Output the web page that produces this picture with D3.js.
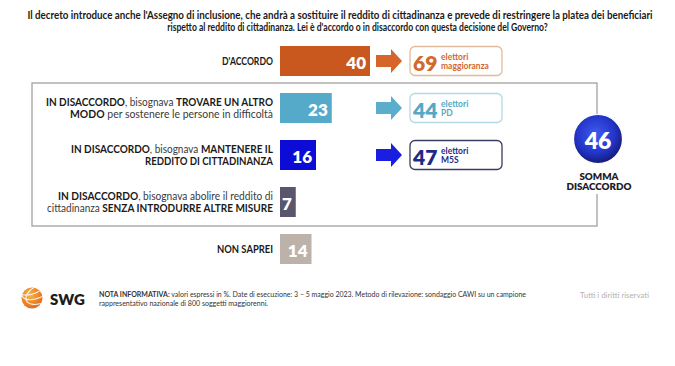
<!DOCTYPE html>
<html><head><meta charset="utf-8">
<script src="https://cdn.jsdelivr.net/npm/d3@7"></script>
<style>body{margin:0;background:#fff} svg{display:block;font-family:Lato,'Open Sans',sans-serif}</style>
</head><body><svg id="c" width="675" height="366"></svg>
<script>
// ---------- DATA ----------
const titleLines = [
  "Il decreto introduce anche l'Assegno di inclusione, che andrà a sostituire il reddito di cittadinanza e prevede di restringere la platea dei beneficiari",
  "rispetto al reddito di cittadinanza. Lei è d'accordo o in disaccordo con questa decisione del Governo?"
];
const categories = ["accordo", "altroModo", "mantenere", "abolire", "nonSaprei"];
const values = [40, 23, 16, 7, 14];
const labelLines = [
  [[["D'ACCORDO", true]]],
  [[["IN DISACCORDO", true], [", bisognava ", false], ["TROVARE UN ALTRO", true]],
   [["MODO", true], [" per sostenere le persone in difficoltà", false]]],
  [[["IN DISACCORDO", true], [", bisognava ", false], ["MANTENERE IL", true]],
   [["REDDITO DI CITTADINANZA", true]]],
  [[["IN DISACCORDO", true], [", bisognava abolire il reddito di", false]],
   [["cittadinanza ", false], ["SENZA INTRODURRE ALTRE MISURE", true]]],
  [[["NON SAPREI", true]]]
];
const electorateCategories = ["accordo", "altroModo", "mantenere"];
const electorateValues = [69, 44, 47];
const electorateWord = "elettori";
const electorateGroups = ["maggioranza", "PD", "M5S"];
const sumValue = 46;
const sumLabel = ["SOMMA", "DISACCORDO"];
const noteLines = [
  [["NOTA INFORMATIVA:", true], [" valori espressi in %. Date di esecuzione: 3 – 5 maggio 2023. Metodo di rilevazione: sondaggio CAWI su un campione", false]],
  [["rappresentativo nazionale di 800 soggetti maggiorenni.", false]]
];
const brand = "SWG";
const rights = "Tutti i diritti riservati";

// ---------- STYLE / LAYOUT ----------
const barColors = ["#c9581f", "#55a9c9", "#0c0cd6", "#5b566d", "#bcb2aa"];
const arrowColors = ["#d5652a", "#5aaecb", "#1a1ee0"];
const boxStroke = ["#e3bb9c", "#b3d8e6", "#3a3d60"];
const boxText = ["#d2682b", "#54a8c6", "#1f2a85"];
const labelWidths = [[51], [227, 203], [202, 128], [215, 226], [56]];
const titleWidths = [626, 381];
const titleCenters = [340, 357.5];

const svg = d3.select("#c");
const defs = svg.append("defs");

const x = d3.scaleLinear().domain([0, 40]).range([280, 370]);
const y = d3.scalePoint().domain(categories).range([61, 249]);
const barH = 30;

// title: condensed by narrowing font-size and stretching vertically
titleLines.forEach((line, i) => {
  const base = 10.5;
  const t = svg.append("text")
    .attr("text-anchor", "middle").attr("font-weight", 700).attr("font-size", base)
    .attr("fill", "#1a1a1a").text(line);
  const natural = t.node().getComputedTextLength();
  const k = Math.min(1, titleWidths[i] / natural);
  t.attr("font-size", base * k)
   .attr("transform", `translate(${titleCenters[i]},${18.5 + i * 12}) scale(1,${1 / k})`);
});

// disagreement frame
svg.append("rect").attr("x", 32).attr("y", 83).attr("width", 565).attr("height", 143)
  .attr("fill", "none").attr("stroke", "#a0a0a0").attr("stroke-width", 1.3);
svg.append("rect").attr("x", 590).attr("y", 158).attr("width", 16).attr("height", 36).attr("fill", "#fff");

// bars
svg.selectAll("rect.bar").data(values).join("rect")
  .attr("class", "bar")
  .attr("x", x(0)).attr("y", (d, i) => y(categories[i]) - barH / 2)
  .attr("width", d => x(d) - x(0)).attr("height", barH)
  .attr("fill", (d, i) => barColors[i]);

svg.selectAll("text.val").data(values).join("text")
  .attr("class", "val")
  .attr("x", d => x(d) - 4).attr("y", (d, i) => y(categories[i]) + 1)
  .attr("text-anchor", "end").attr("dominant-baseline", "central")
  .attr("font-weight", 800).attr("font-size", 17).attr("fill", "#fff")
  .text(d => d);

// labels
labelLines.forEach((lines, i) => {
  const cy = y(categories[i]);
  const n = lines.length;
  lines.forEach((segs, j) => {
    const t = svg.append("text")
      .attr("x", 273).attr("y", cy + (j - (n - 1) / 2) * 11.5)
      .attr("text-anchor", "end").attr("dominant-baseline", "central")
      .attr("font-size", 10.5).attr("fill", "#2a2a2a")
      .attr("textLength", labelWidths[i][j]).attr("lengthAdjust", "spacingAndGlyphs");
    segs.forEach(s => t.append("tspan").attr("font-weight", s[1] ? 700 : 400)
      .attr("fill", s[1] ? "#1a1a1a" : "#3a3a3a").text(s[0]));
  });
});

// arrows + electorate boxes
electorateValues.forEach((v, i) => {
  const cy = y(electorateCategories[i]);
  const p = d3.path();
  p.moveTo(376, cy - 6); p.lineTo(391, cy - 6); p.lineTo(391, cy - 12);
  p.lineTo(402, cy); p.lineTo(391, cy + 12); p.lineTo(391, cy + 6);
  p.lineTo(376, cy + 6); p.closePath();
  svg.append("path").attr("d", p.toString()).attr("fill", arrowColors[i]);

  svg.append("rect").attr("x", 410).attr("y", cy - 14.5).attr("width", 92).attr("height", 29)
    .attr("rx", 5).attr("fill", "#fff").attr("stroke", boxStroke[i]).attr("stroke-width", 1.3);
  svg.append("text").attr("x", 413).attr("y", cy + 1)
    .attr("dominant-baseline", "central").attr("font-weight", 800).attr("font-size", 21)
    .attr("fill", boxText[i]).text(v);
  svg.append("text").attr("x", 441).attr("y", cy - 4.5)
    .attr("dominant-baseline", "central").attr("font-weight", 700).attr("font-size", 8.5)
    .attr("fill", boxText[i]).text(electorateWord);
  svg.append("text").attr("x", 441).attr("y", cy + 5)
    .attr("dominant-baseline", "central").attr("font-weight", 700).attr("font-size", 8.5)
    .attr("fill", boxText[i]).text(electorateGroups[i]);
});

// sum circle
const rg = defs.append("radialGradient").attr("id", "sumGrad").attr("cx", "45%").attr("cy", "40%").attr("r", "60%");
rg.append("stop").attr("offset", "0%").attr("stop-color", "#3f5af0");
rg.append("stop").attr("offset", "65%").attr("stop-color", "#2335c8");
rg.append("stop").attr("offset", "100%").attr("stop-color", "#141c78");
svg.append("circle").attr("cx", 598).attr("cy", 139).attr("r", 24.5)
  .attr("fill", "url(#sumGrad)").attr("stroke", "#fff").attr("stroke-width", 1.2);
svg.append("text").attr("x", 598).attr("y", 140).attr("text-anchor", "middle")
  .attr("dominant-baseline", "central").attr("font-weight", 800).attr("font-size", 23)
  .attr("fill", "#fff").text(sumValue);
svg.selectAll("text.sum").data(sumLabel).join("text").attr("class", "sum")
  .attr("x", 599).attr("y", (d, i) => 175.5 + i * 10.5).attr("text-anchor", "middle")
  .attr("dominant-baseline", "central").attr("font-weight", 800).attr("font-size", 9.8)
  .attr("fill", "#1c1c2a").text(d => d);

// footer logo
const lg = defs.append("radialGradient").attr("id", "logoGrad").attr("cx", "40%").attr("cy", "35%").attr("r", "70%");
lg.append("stop").attr("offset", "0%").attr("stop-color", "#f9b548");
lg.append("stop").attr("offset", "100%").attr("stop-color", "#e2661a");
defs.append("clipPath").attr("id", "logoClip").append("circle").attr("cx", 32).attr("cy", 298).attr("r", 10.5);
svg.append("circle").attr("cx", 32).attr("cy", 298).attr("r", 10.5).attr("fill", "url(#logoGrad)");
const stripes = svg.append("g").attr("clip-path", "url(#logoClip)");
[-6, 0, 6].forEach(o => {
  stripes.append("ellipse").attr("cx", 40 + o * 0.3).attr("cy", 292 + o)
    .attr("rx", 16).attr("ry", 9).attr("transform", `rotate(-25 32 298)`)
    .attr("fill", "none").attr("stroke", "#fff").attr("stroke-width", 1.1).attr("opacity", 0.9);
});
svg.append("text").attr("x", 50).attr("y", 298.5).attr("dominant-baseline", "central")
  .attr("font-weight", 800).attr("font-size", 15).attr("fill", "#1d1d1d").text(brand);

const noteWidths = [427, 169];
noteLines.forEach((segs, j) => {
  const t = svg.append("text").attr("x", 99).attr("y", 296.5 + j * 9)
    .attr("font-size", 7.5).attr("fill", "#333")
    .attr("textLength", noteWidths[j]).attr("lengthAdjust", "spacingAndGlyphs");
  segs.forEach(s => t.append("tspan").attr("font-weight", s[1] ? 700 : 400).text(s[0]));
});
svg.append("text").attr("x", 580).attr("y", 298).attr("font-size", 7.5).attr("fill", "#b0b0b0")
  .attr("textLength", 69).attr("lengthAdjust", "spacingAndGlyphs").text(rights);
</script></body></html>
